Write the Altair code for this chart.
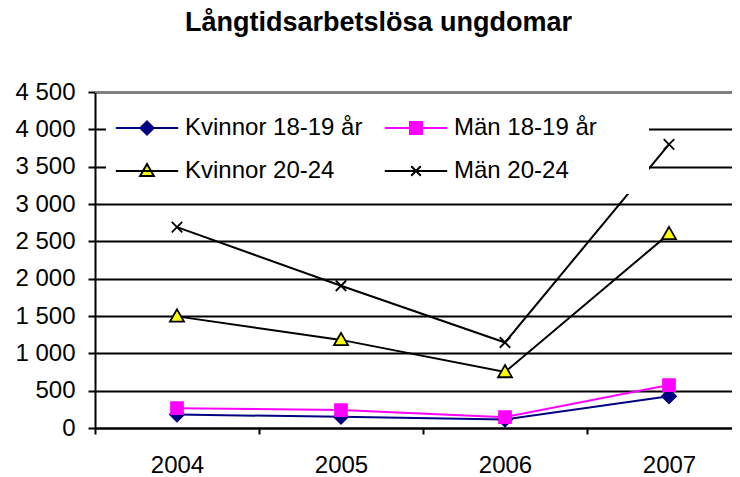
import altair as alt
import pandas as pd

# ---- data ----
years = [2004, 2005, 2006, 2007]
series_names = ["Kvinnor 18-19 år", "Män 18-19 år", "Kvinnor 20-24", "Män 20-24"]
kvinnor_18_19 = [180, 150, 115, 425]
man_18_19 = [265, 240, 145, 575]
kvinnor_20_24 = [1495, 1180, 750, 2600]
man_20_24 = [2690, 1905, 1145, 3800]

y_ticks = [0, 500, 1000, 1500, 2000, 2500, 3000, 3500, 4000, 4500]

# ---- styles ----
line_colors = ["#000080", "#FF00FF", "#000000", "#000000"]
marker_fills = ["#000080", "#FF00FF", "#FFFF00", "transparent"]
marker_strokes = ["#000080", "#FF00FF", "#000000", "#000000"]
marker_paths = [
    "M0,-1L1,0L0,1L-1,0Z",
    "M-0.85,-0.85H0.85V0.85H-0.85Z",
    "M0,-1L1,0.75L-1,0.75Z",
    "M-0.75,-0.75L0.75,0.75M0.75,-0.75L-0.75,0.75",
]
legend_paths = [
    "M-5.2,0H5.2M0,-1.1L1.1,0L0,1.1L-1.1,0Z",
    "M-5.2,0H5.2M-1,-1H1V1H-1Z",
    "M-5.2,0H5.2M0,-1.15L1.15,0.85L-1.15,0.85Z",
    "M-5.2,0H5.2M-0.8,-0.8L0.8,0.8M0.8,-0.8L-0.8,0.8",
]

all_values = [kvinnor_18_19, man_18_19, kvinnor_20_24, man_20_24]
rows = []
for name, vals in zip(series_names, all_values):
    for yr, v in zip(years, vals):
        rows.append({"series": name, "year": yr, "value": v})
df = pd.DataFrame(rows)
top_df = pd.DataFrame({"top": [y_ticks[-1]]})

FONT = "Liberation Sans"
# the plot area is wider than the window: the 4th category band is cut at the right edge
x_scale = alt.Scale(type="band", domain=years, paddingInner=0, paddingOuter=0,
                    range=[0, 656])
y_scale = alt.Scale(domain=[0, 4500], nice=False, zero=True)

x_axis = alt.Axis(tickBand="extent", ticks=True, tickSize=6, tickWidth=2,
                  tickColor="black", domainColor="black", domainWidth=2, grid=False,
                  title=None, orient="bottom", labelPadding=19, labelAngle=0,
                  labelFont=FONT, labelFontSize=24, labelColor="black")
y_axis = alt.Axis(values=y_ticks, title=None, tickSize=7, tickWidth=2,
                  tickColor="black", domainColor="black", domainWidth=2,
                  grid=True, gridWidth=2, gridColor="#000000",
                  labelExpr="replace(format(datum.value, ',d'), ',', ' ')",
                  labelPadding=13, labelFont=FONT, labelFontSize=24,
                  labelColor="black", orient="left")

X = alt.X("year:O", scale=x_scale, axis=x_axis)
Y = alt.Y("value:Q", scale=y_scale, axis=y_axis)

lines = alt.Chart(df).mark_line(strokeWidth=2).encode(
    x=X, y=Y,
    color=alt.Color("series:N", scale=alt.Scale(domain=series_names, range=line_colors),
                    legend=None),
)

top_line = alt.Chart(top_df).mark_rule(color="#808080", strokeWidth=2).encode(
    y=alt.Y("top:Q", scale=y_scale, axis=y_axis),
)

points = alt.Chart(df).mark_point(size=196, opacity=1, strokeWidth=1.8).encode(
    x=X, y=Y,
    shape=alt.Shape("series:N", scale=alt.Scale(domain=series_names, range=marker_paths),
                    legend=None),
    fill=alt.Fill("series:N", scale=alt.Scale(domain=series_names, range=marker_fills),
                  legend=None),
    stroke=alt.Stroke("series:N", scale=alt.Scale(domain=series_names, range=marker_strokes),
                      legend=None),
)

# hidden legend title on the right only widens the white legend box
leg = alt.Legend(title="Serie", titleOrient="right", titleOpacity=0, titleFontSize=2,
                 titlePadding=36)
legend_layer = alt.Chart(df).transform_filter("false").mark_point(
    size=144, opacity=1, strokeWidth=2
).encode(
    x=X, y=Y,
    shape=alt.Shape("series:N", scale=alt.Scale(domain=series_names, range=legend_paths),
                    legend=leg),
    fill=alt.Fill("series:N", scale=alt.Scale(domain=series_names, range=marker_fills),
                  legend=leg),
    stroke=alt.Stroke("series:N", scale=alt.Scale(domain=series_names, range=marker_strokes),
                      legend=leg),
)

chart = alt.layer(lines, top_line, points, legend_layer).resolve_scale(
    shape="independent", fill="independent", stroke="independent"
).properties(
    width=637,
    height=336,
    autosize=alt.AutoSizeParams(type="none"),
    padding={"left": 87, "top": 84, "right": 0, "bottom": 49},
    title=alt.TitleParams(
        text="Långtidsarbetslösa ungdomar", font=FONT, fontSize=27, fontWeight="bold",
        color="black", anchor="middle", frame="group", dx=-35, offset=22,
        baseline="alphabetic",
    ),
).configure(background="white").configure_view(stroke=None).configure_legend(
    orient="none", legendX=11, legendY=13, columns=2, direction="horizontal",
    fillColor="white", padding=11, labelFont=FONT, labelFontSize=24,
    labelColor="black", labelLimit=400,
    symbolSize=144, symbolStrokeWidth=2, symbolOffset=18, labelOffset=26,
    columnPadding=17, rowPadding=19,
)

chart.save("out.html", embed_options={"renderer": "svg", "actions": False})
